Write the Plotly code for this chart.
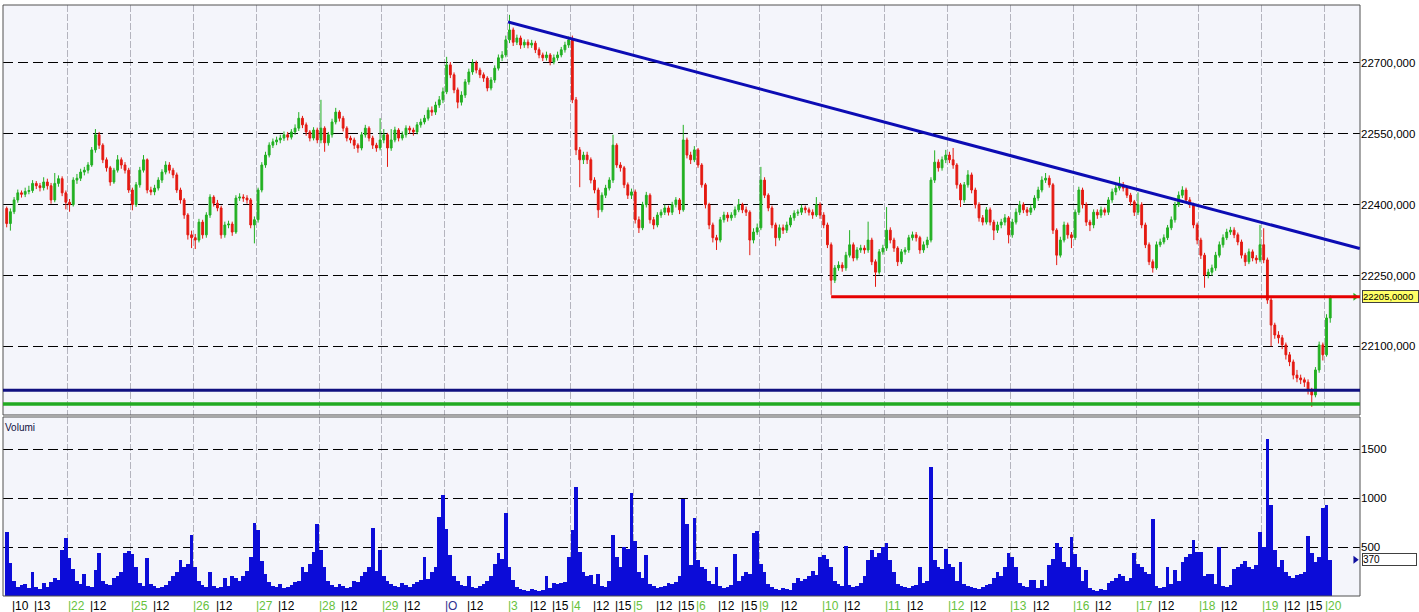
import plotly.graph_objects as go

BARS_PER_DAY = 17  # half-hour bars, 9:00-17:30

# session labels shown on the time axis (first session is a partial one)
session_names = ["", "22", "25", "26", "27", "28", "29", "O", "3", "4", "5", "6",
                 "9", "10", "11", "12", "13", "16", "17", "18", "19", "20"]
sessions_with_15 = ["3", "4", "5", "6", "19"]

first_open = 22392
close = [
    22360, 22385, 22410, 22425, 22422, 22428, 22430, 22445, 22440, 22436, 22448, 22440, 22410, 22445, 22455, 22425, 22405,
    22400, 22452, 22456, 22469, 22473, 22484, 22516, 22548, 22526, 22495, 22478, 22448, 22473, 22495, 22484, 22473, 22431,
    22400, 22442, 22473, 22495, 22431, 22427, 22435, 22452, 22469, 22484, 22473, 22463, 22431, 22410, 22378, 22336, 22330,
    22325, 22363, 22336, 22378, 22416, 22403, 22393, 22336, 22357, 22359, 22342, 22414, 22416, 22414, 22410, 22357, 22368,
    22431, 22484, 22505, 22526, 22533, 22537, 22541, 22548, 22543, 22554, 22562, 22583, 22569, 22554, 22541, 22558, 22537,
    22562, 22531, 22548, 22575, 22596, 22583, 22562, 22541, 22537, 22526, 22520, 22548, 22562, 22541, 22526, 22520, 22537,
    22548, 22520, 22537, 22558, 22541, 22548, 22562, 22558, 22554, 22569, 22575, 22583, 22600, 22596, 22611, 22622, 22639,
    22696, 22675, 22643, 22617, 22632, 22660, 22681, 22700, 22685, 22675, 22668, 22647, 22664, 22689, 22711, 22717, 22749,
    22770, 22744, 22753, 22738, 22744, 22738, 22742, 22728, 22717, 22711, 22717, 22702, 22711, 22717, 22728, 22738, 22749,
    22622, 22516, 22495, 22505, 22495, 22452, 22431, 22389, 22420, 22435, 22452, 22526, 22484, 22478, 22442, 22420, 22427,
    22368, 22351, 22400, 22420, 22368, 22357, 22378, 22384, 22393, 22384, 22400, 22410, 22389, 22537, 22505, 22495, 22516,
    22484, 22442, 22400, 22357, 22330, 22325, 22368, 22378, 22372, 22378, 22389, 22400, 22389, 22384, 22325, 22342, 22351,
    22452, 22420, 22393, 22357, 22330, 22351, 22346, 22357, 22372, 22382, 22384, 22393, 22389, 22384, 22378, 22400, 22378,
    22357, 22315, 22240, 22266, 22272, 22266, 22293, 22315, 22287, 22304, 22308, 22304, 22325, 22279, 22257, 22300, 22308,
    22346, 22325, 22308, 22279, 22300, 22304, 22330, 22336, 22330, 22304, 22315, 22325, 22452, 22490, 22478, 22495, 22505,
    22495, 22484, 22442, 22410, 22442, 22463, 22431, 22400, 22372, 22363, 22389, 22363, 22346, 22357, 22363, 22372, 22336,
    22363, 22384, 22400, 22389, 22384, 22393, 22414, 22431, 22452, 22456, 22442, 22346, 22293, 22325, 22357, 22336, 22330,
    22384, 22431, 22400, 22363, 22357, 22384, 22378, 22389, 22384, 22410, 22427, 22435, 22442, 22435, 22420, 22406, 22384,
    22400, 22357, 22315, 22279, 22266, 22315, 22321, 22330, 22351, 22368, 22400, 22420, 22431, 22410, 22400, 22357, 22325,
    22293, 22251, 22257, 22266, 22293, 22315, 22330, 22342, 22346, 22336, 22321, 22293, 22279, 22300, 22287, 22283, 22315,
    22283, 22198, 22145, 22124, 22118, 22103, 22082, 22067, 22039, 22033, 22029, 22024, 22007, 21997, 22050, 22103, 22082,
    22160, 22205,
]
high = [
    22396, 22392, 22416, 22432, 22430, 22436, 22440, 22452, 22450, 22446, 22458, 22455, 22446, 22467, 22462, 22460, 22430,
    22412, 22458, 22465, 22476, 22480, 22490, 22522, 22560, 22554, 22530, 22500, 22482, 22478, 22505, 22500, 22490, 22478,
    22436, 22448, 22480, 22505, 22498, 22438, 22442, 22458, 22475, 22492, 22490, 22478, 22468, 22436, 22414, 22382, 22345,
    22338, 22370, 22368, 22384, 22422, 22420, 22410, 22398, 22364, 22366, 22364, 22420, 22424, 22422, 22420, 22414, 22375,
    22436, 22490, 22512, 22532, 22540, 22544, 22548, 22555, 22554, 22560, 22570, 22596, 22588, 22574, 22558, 22564, 22563,
    22622, 22566, 22554, 22582, 22605, 22600, 22588, 22566, 22546, 22542, 22530, 22554, 22569, 22566, 22546, 22531, 22583,
    22560, 22552, 22560, 22565, 22562, 22555, 22568, 22567, 22563, 22575, 22582, 22590, 22606, 22608, 22618, 22630, 22648,
    22713, 22702, 22680, 22648, 22640, 22666, 22688, 22708, 22705, 22690, 22680, 22672, 22670, 22695, 22718, 22725, 22758,
    22802, 22775, 22760, 22758, 22750, 22750, 22749, 22747, 22733, 22722, 22724, 22721, 22718, 22724, 22734, 22745, 22756,
    22758, 22628, 22522, 22512, 22512, 22500, 22458, 22436, 22426, 22442, 22458, 22548, 22530, 22490, 22482, 22447, 22434,
    22432, 22375, 22406, 22427, 22424, 22374, 22384, 22390, 22400, 22398, 22406, 22416, 22414, 22569, 22542, 22512, 22524,
    22520, 22488, 22446, 22404, 22362, 22336, 22374, 22385, 22384, 22384, 22396, 22412, 22404, 22396, 22388, 22350, 22360,
    22480, 22458, 22424, 22398, 22362, 22358, 22358, 22364, 22378, 22388, 22390, 22400, 22398, 22394, 22390, 22416, 22405,
    22384, 22362, 22320, 22272, 22280, 22278, 22300, 22346, 22320, 22310, 22315, 22314, 22364, 22330, 22284, 22306, 22315,
    22395, 22352, 22330, 22312, 22306, 22310, 22336, 22343, 22342, 22334, 22322, 22332, 22458, 22515, 22496, 22502, 22516,
    22512, 22520, 22488, 22446, 22448, 22473, 22468, 22436, 22405, 22378, 22395, 22394, 22368, 22364, 22370, 22380, 22376,
    22370, 22392, 22408, 22405, 22395, 22400, 22420, 22438, 22460, 22467, 22462, 22446, 22350, 22332, 22364, 22362, 22342,
    22390, 22438, 22436, 22405, 22368, 22390, 22390, 22396, 22394, 22416, 22434, 22442, 22459, 22448, 22440, 22425, 22410,
    22426, 22405, 22362, 22320, 22284, 22322, 22328, 22337, 22357, 22375, 22406, 22428, 22439, 22436, 22416, 22404, 22362,
    22330, 22298, 22264, 22273, 22300, 22322, 22337, 22349, 22353, 22352, 22341, 22326, 22298, 22307, 22305, 22293, 22357,
    22350, 22288, 22203, 22150, 22132, 22124, 22108, 22088, 22072, 22050, 22040, 22034, 22030, 22012, 22056, 22110, 22108,
    22168, 22208,
]
low = [
    22352, 22345, 22380, 22404, 22415, 22416, 22422, 22425, 22433, 22428, 22430, 22432, 22402, 22405, 22438, 22418, 22390,
    22385, 22396, 22444, 22450, 22462, 22466, 22480, 22510, 22518, 22488, 22470, 22440, 22444, 22468, 22476, 22466, 22425,
    22388, 22395, 22436, 22468, 22424, 22420, 22420, 22430, 22446, 22464, 22466, 22456, 22425, 22402, 22370, 22326, 22308,
    22306, 22320, 22328, 22330, 22372, 22396, 22386, 22328, 22330, 22350, 22334, 22338, 22408, 22406, 22402, 22350, 22318,
    22362, 22426, 22478, 22500, 22520, 22526, 22530, 22535, 22536, 22538, 22548, 22556, 22562, 22546, 22534, 22536, 22530,
    22530, 22512, 22525, 22542, 22570, 22576, 22555, 22534, 22530, 22518, 22510, 22515, 22542, 22534, 22518, 22512, 22515,
    22530, 22480, 22514, 22532, 22534, 22536, 22542, 22550, 22546, 22549, 22563, 22570, 22578, 22588, 22590, 22605, 22615,
    22634, 22668, 22636, 22604, 22610, 22626, 22654, 22675, 22678, 22668, 22660, 22640, 22642, 22658, 22684, 22704, 22712,
    22742, 22736, 22738, 22730, 22732, 22731, 22732, 22721, 22710, 22704, 22705, 22695, 22697, 22705, 22712, 22722, 22732,
    22615, 22505, 22437, 22486, 22486, 22445, 22424, 22372, 22384, 22414, 22430, 22446, 22478, 22470, 22435, 22412, 22412,
    22360, 22340, 22346, 22394, 22360, 22348, 22352, 22372, 22378, 22377, 22378, 22394, 22380, 22385, 22498, 22486, 22490,
    22478, 22436, 22392, 22348, 22320, 22304, 22320, 22362, 22364, 22366, 22372, 22384, 22382, 22376, 22293, 22318, 22336,
    22346, 22414, 22386, 22350, 22312, 22324, 22338, 22340, 22352, 22366, 22376, 22378, 22382, 22377, 22370, 22374, 22370,
    22350, 22308, 22209, 22234, 22260, 22258, 22260, 22288, 22280, 22282, 22298, 22296, 22298, 22272, 22226, 22252, 22294,
    22302, 22318, 22300, 22270, 22274, 22294, 22298, 22324, 22322, 22296, 22298, 22308, 22320, 22446, 22470, 22472, 22488,
    22488, 22476, 22434, 22395, 22404, 22436, 22424, 22392, 22364, 22356, 22358, 22356, 22325, 22340, 22350, 22356, 22318,
    22330, 22358, 22378, 22382, 22376, 22378, 22388, 22408, 22426, 22446, 22436, 22338, 22272, 22288, 22320, 22328, 22308,
    22325, 22378, 22392, 22355, 22344, 22350, 22370, 22372, 22377, 22378, 22404, 22420, 22430, 22428, 22414, 22398, 22376,
    22378, 22350, 22308, 22272, 22256, 22262, 22310, 22316, 22325, 22346, 22362, 22395, 22414, 22404, 22393, 22350, 22316,
    22285, 22224, 22244, 22250, 22260, 22288, 22309, 22325, 22336, 22329, 22314, 22286, 22270, 22274, 22280, 22275, 22278,
    22276, 22190, 22100, 22116, 22106, 22094, 22072, 22058, 22030, 22024, 22020, 22014, 21998, 21972, 21992, 22044, 22070,
    22078, 22150,
]
volume = [
    650, 340, 150, 90, 110, 120, 80, 250, 90, 70, 130, 90, 140, 180, 160, 470, 590,
    390, 280, 150, 120, 230, 100, 90, 270, 440, 150, 120, 110, 180, 200, 250, 440, 460,
    430, 300, 130, 100, 390, 120, 100, 80, 90, 110, 150, 200, 250, 370, 300, 330, 620,
    300, 150, 110, 90, 250, 100, 80, 90, 180, 100, 200, 180, 150, 200, 260, 400, 750,
    680, 360, 230, 140, 100, 90, 120, 80, 90, 110, 140, 150, 300, 250, 330, 450, 740,
    470, 300, 150, 110, 90, 120, 100, 80, 90, 150, 140, 200, 250, 300, 700, 260, 470,
    200, 150, 120, 100, 90, 130, 110, 90, 120, 140, 160, 400, 170, 250, 300, 810, 1030,
    690, 420, 200, 150, 110, 100, 200, 90, 80, 100, 120, 150, 200, 330, 440, 380, 850,
    300, 160, 90, 70, 60, 50, 70, 60, 50, 60, 200, 80, 130, 120, 130, 140, 400,
    680, 1120, 450, 250, 200, 220, 120, 230, 100, 90, 150, 620, 400, 300, 500, 480, 1050,
    560, 250, 180, 420, 120, 100, 80, 90, 100, 130, 120, 140, 200, 990, 740, 320, 800,
    370, 300, 280, 150, 120, 300, 100, 80, 90, 110, 430, 150, 200, 250, 230, 640, 670,
    330, 250, 120, 90, 70, 60, 80, 70, 60, 130, 180, 150, 170, 200, 260, 220, 400,
    420, 380, 300, 150, 120, 100, 510, 110, 90, 100, 130, 200, 370, 470, 400, 440, 500,
    540, 370, 250, 120, 100, 90, 80, 100, 110, 300, 130, 150, 1320, 370, 300, 280, 480,
    330, 300, 150, 350, 120, 100, 90, 80, 70, 90, 110, 120, 180, 250, 200, 300, 435,
    400, 300, 130, 100, 90, 160, 160, 80, 160, 100, 320, 380, 540, 500, 350, 300, 605,
    430, 300, 150, 270, 80, 60, 50, 70, 60, 130, 150, 180, 230, 200, 150, 180, 435,
    330, 300, 250, 230, 790, 100, 80, 90, 300, 120, 270, 150, 350, 400, 430, 570, 450,
    450, 200, 230, 230, 120, 500, 100, 90, 110, 280, 300, 330, 360, 300, 280, 320, 650,
    500, 1610, 930, 470, 300, 370, 250, 200, 180, 220, 230, 250, 610, 440, 350, 400, 900,
    930, 370,
]

# drawn studies
trend_x = [135.6, 366.0]
trend_y = [22787, 22307]
red_level, red_from = 22205, 223
navy_level = 22007
green_level = 21978

price_ticks = [22100, 22250, 22400, 22550, 22700]
volume_ticks = [500, 1000, 1500]

X_RANGE = [-1.0, 366.05]
PRICE_DOMAIN = [0.3063, 1.0]
VOL_DOMAIN = [0.0, 0.3029]

x = list(range(len(close)))
open_ = [first_open] + close[:-1]
day_starts = [BARS_PER_DAY * k - 0.5 for k in range(1, len(session_names))]

fig = go.Figure()

fig.add_trace(go.Candlestick(
    x=x, open=open_, high=high, low=low, close=close,
    increasing=dict(line=dict(color="#22b022", width=1), fillcolor="#22b022"),
    decreasing=dict(line=dict(color="#e41a12", width=1), fillcolor="#e41a12"),
    xaxis="x", yaxis="y", showlegend=False, hoverinfo="skip",
))

fig.add_trace(go.Bar(
    x=x, y=volume, marker=dict(color="#0c0cd8", line=dict(width=0)),
    xaxis="x2", yaxis="y2", showlegend=False, hoverinfo="skip",
))

# last price / last volume arrows
fig.add_trace(go.Scatter(
    x=[X_RANGE[1] - 1.3], y=[close[-1]], mode="markers",
    marker=dict(symbol="triangle-right", size=7, color="#22b022"),
    xaxis="x", yaxis="y", cliponaxis=False, showlegend=False, hoverinfo="skip",
))
fig.add_trace(go.Scatter(
    x=[X_RANGE[1] - 1.3], y=[volume[-1]], mode="markers",
    marker=dict(symbol="triangle-right", size=7, color="#1010a0"),
    xaxis="x2", yaxis="y2", cliponaxis=False, showlegend=False, hoverinfo="skip",
))

grid_x = dict(range=X_RANGE, tickvals=day_starts, showticklabels=False, ticks="",
              showgrid=True, gridcolor="#b4b4be", gridwidth=1, griddash="7px,2px",
              zeroline=False, showline=False, fixedrange=True, automargin=False)

fig.update_layout(
    width=1419, height=612,
    margin=dict(l=3, r=59, t=5, b=16, autoexpand=False),
    paper_bgcolor="white", plot_bgcolor="#f4f5fb",
    font=dict(family="Liberation Sans, Arial, sans-serif", size=12, color="black"),
    bargap=0,
    xaxis=dict(grid_x, anchor="y", rangeslider=dict(visible=False)),
    xaxis2=dict(grid_x, anchor="y2", matches="x"),
    yaxis=dict(domain=PRICE_DOMAIN, range=[21954.6, 22822.8], side="right",
               tickvals=price_ticks, ticktext=[f"{v},000" for v in price_ticks],
               tickfont=dict(size=11.5),
               showgrid=True, gridcolor="black", gridwidth=1, griddash="10px,5px",
               zeroline=False, ticks="", fixedrange=True, automargin=False),
    yaxis2=dict(domain=VOL_DOMAIN, range=[0, 1831], side="right",
                tickvals=volume_ticks, ticktext=[str(v) for v in volume_ticks],
                tickfont=dict(size=11.5),
                showgrid=True, gridcolor="black", gridwidth=1, griddash="10px,5px",
                zeroline=False, ticks="", fixedrange=True, automargin=False),
)

# panel frames
for dom in (PRICE_DOMAIN, VOL_DOMAIN):
    fig.add_shape(type="rect", xref="paper", yref="paper", x0=0, x1=1, y0=dom[0], y1=dom[1],
                  line=dict(color="#505050", width=1), layer="above")
fig.add_shape(type="line", xref="paper", yref="paper", x0=0, x1=1,
              y0=(PRICE_DOMAIN[0] + VOL_DOMAIN[1]) / 2, y1=(PRICE_DOMAIN[0] + VOL_DOMAIN[1]) / 2,
              line=dict(color="#a8a8a8", width=2))

# studies
fig.add_shape(type="line", xref="x", yref="y", x0=trend_x[0], x1=trend_x[1], y0=trend_y[0], y1=trend_y[1],
              line=dict(color="#0c0cb4", width=3))
fig.add_shape(type="line", xref="x", yref="y", x0=red_from, x1=X_RANGE[1], y0=red_level, y1=red_level,
              line=dict(color="#e60000", width=3))
fig.add_shape(type="line", xref="x", yref="y", x0=X_RANGE[0], x1=X_RANGE[1], y0=navy_level, y1=navy_level,
              line=dict(color="#101080", width=3))
fig.add_shape(type="line", xref="x", yref="y", x0=X_RANGE[0], x1=X_RANGE[1], y0=green_level, y1=green_level,
              line=dict(color="#22aa22", width=3.5))

# value boxes on the right
fig.add_annotation(xref="paper", x=1, xanchor="left", xshift=2, yref="y", y=close[-1],
                   text=f"{close[-1]},0000", showarrow=False, align="left", width=55,
                   bgcolor="#ffff66", bordercolor="#404040", borderwidth=1, borderpad=0,
                   font=dict(size=9.5, color="black"))
fig.add_annotation(xref="paper", x=1, xanchor="left", xshift=2, yref="y2", y=volume[-1],
                   text=str(volume[-1]), showarrow=False, align="left", width=53,
                   bgcolor="white", bordercolor="#404040", borderwidth=1, borderpad=0,
                   font=dict(size=10, color="black"))

fig.add_annotation(xref="paper", x=0, xanchor="left", yref="y2 domain", y=1, yanchor="top", yshift=-3,
                   text="Volumi", showarrow=False, font=dict(size=10, color="#101040"))

# time axis labels
GREEN = "#66c23c"
label_font = dict(size=12)
def time_label(xpos, text, color):
    fig.add_annotation(xref="x", x=xpos, xanchor="left", xshift=-2, yref="paper", y=0, yanchor="top",
                       yshift=-1, text=text, showarrow=False, font=dict(label_font, color=color))

time_label(1.5, "|10", "black")
time_label(7.5, "|13", "black")
for k, name in enumerate(session_names):
    if k == 0:
        continue
    start = BARS_PER_DAY * k - 0.5
    time_label(start, "|" + name, "#303090" if name == "O" else GREEN)
    if k < len(session_names) - 1:
        time_label(start + 6, "|12", "black")
    if name in sessions_with_15:
        time_label(start + 12, "|15", "black")

fig.write_html("out.html", post_script="document.body.style.margin='0';",
               config={"displayModeBar": False})
